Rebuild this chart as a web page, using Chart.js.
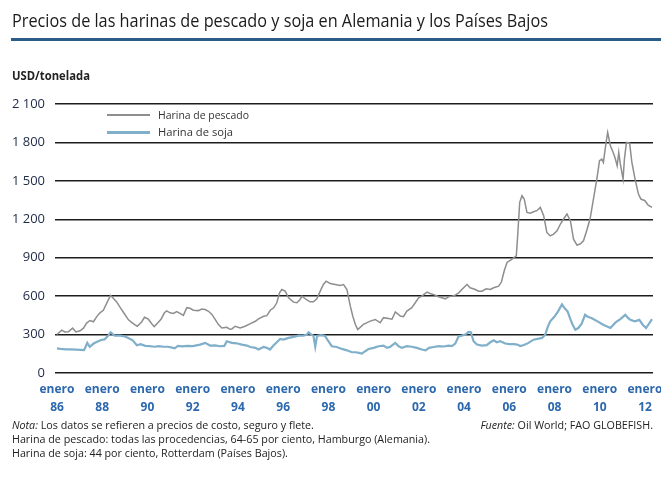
<!DOCTYPE html>
<html><head><meta charset="utf-8">
<script src="https://cdn.jsdelivr.net/npm/chart.js@4"></script>
<style>
html,body{margin:0;padding:0;background:#fff;}
#wrap{position:relative;width:661px;height:484px;overflow:hidden;}
canvas{position:absolute;left:0;top:0;}
.t{position:absolute;white-space:nowrap;transform-origin:left center;}
.n{position:absolute;white-space:nowrap;font:11px 'Open Sans';color:#222;line-height:14px;}
</style></head>
<body><div id="wrap">
<canvas id="c" width="661" height="484"></canvas>
<div class="t" data-w="536" style="left:12px;top:8px;font:18px 'Open Sans';color:#1b1b1b;line-height:24px">Precios de las harinas de pescado y soja en Alemania y los Países Bajos</div>
<div style="position:absolute;left:11px;top:38px;width:650px;height:3px;background:#2a5c88"></div>
<div class="t" data-w="78" style="left:12px;top:68px;font:bold 11.5px 'Open Sans';color:#222;line-height:15px">USD/tonelada</div>
<div style="position:absolute;left:107px;top:114px;width:43px;height:1.5px;background:#8e8e8e"></div>
<div style="position:absolute;left:107px;top:131px;width:43px;height:2.5px;background:#80afca"></div>
<div class="t" data-w="91" style="left:158px;top:108px;font:11.5px 'Open Sans';color:#333;line-height:14px">Harina de pescado</div>
<div class="t" data-w="75" style="left:158px;top:125px;font:11.5px 'Open Sans';color:#333;line-height:14px">Harina de soja</div>
<div class="n" id="n1" style="left:12px;top:418px;transform-origin:left center"><i>Nota:</i> Los datos se refieren a precios de costo, seguro y flete.</div>
<div class="n" id="n2" style="left:12px;top:432px;transform-origin:left center">Harina de pescado: todas las procedencias, 64-65 por ciento, Hamburgo (Alemania).</div>
<div class="n" id="n3" style="left:12px;top:446px;transform-origin:left center">Harina de soja: 44 por ciento, Rotterdam (Países Bajos).</div>
<div class="n" id="n4" style="right:8px;top:418px;transform-origin:right center"><i>Fuente:</i> Oil World; FAO GLOBEFISH.</div>
</div>
<script>
const tickYears = [1986,1988,1990,1992,1994,1996,1998,2000,2002,2004,2006,2008,2010,2012];
const yTicks = [0,300,600,900,1200,1500,1800,2100];

const fishYears = [
1986.00,1986.06,1986.21,1986.35,1986.50,1986.69,1986.84,1987.02,1987.17,1987.31,
1987.46,1987.61,1987.76,1987.90,1988.05,1988.20,1988.37,1988.46,1988.64,1988.82,
1989.01,1989.16,1989.30,1989.45,1989.55,1989.75,1989.87,1990.04,1990.19,1990.30,
1990.45,1990.60,1990.75,1990.85,1991.00,1991.15,1991.29,1991.44,1991.59,1991.74,
1991.88,1992.03,1992.25,1992.40,1992.55,1992.70,1992.85,1993.00,1993.14,1993.29,
1993.51,1993.65,1993.73,1993.88,1994.10,1994.32,1994.55,1994.77,1994.91,1995.14,
1995.28,1995.43,1995.58,1995.72,1995.84,1995.94,1996.09,1996.24,1996.46,1996.61,
1996.75,1996.83,1997.02,1997.19,1997.34,1997.49,1997.64,1997.78,1997.90,1998.08,
1998.30,1998.52,1998.67,1998.82,1998.97,1999.08,1999.20,1999.30,1999.55,1999.85,
2000.07,2000.29,2000.44,2000.66,2000.81,2000.96,2001.18,2001.32,2001.47,2001.69,
2001.84,2001.99,2002.13,2002.36,2002.50,2002.72,2002.87,2003.02,2003.17,2003.31,
2003.46,2003.61,2003.76,2003.98,2004.13,2004.27,2004.50,2004.64,2004.79,2004.98,
2005.16,2005.31,2005.53,2005.65,2005.78,2005.90,2006.12,2006.31,2006.37,2006.46,
2006.56,2006.66,2006.78,2006.93,2007.07,2007.22,2007.37,2007.52,2007.66,2007.81,
2007.96,2008.11,2008.26,2008.40,2008.55,2008.70,2008.84,2008.99,2009.13,2009.28,
2009.42,2009.57,2009.72,2009.87,2009.99,2010.09,2010.16,2010.28,2010.35,2010.47,
2010.62,2010.69,2010.77,2010.84,2010.91,2011.03,2011.09,2011.18,2011.32,2011.42,
2011.56,2011.71,2011.82,2012.00,2012.14,2012.31];
const fishPrices = [
300,310,335,320,322,350,320,330,350,390,
410,400,440,470,490,545,605,590,555,505,
455,415,395,375,365,400,435,420,385,362,
390,420,470,485,470,465,480,465,450,510,
505,490,487,500,495,482,457,417,378,352,
357,341,344,365,352,365,386,404,423,443,
448,490,509,548,626,652,639,587,553,548,
574,600,574,556,556,579,639,691,717,699,
691,683,690,652,522,443,375,340,380,405,
418,393,432,425,420,476,445,440,484,510,
548,587,600,631,621,608,595,587,579,595,
600,608,626,665,691,665,652,639,639,657,
652,665,678,710,800,863,889,915,1071,1332,
1384,1358,1254,1248,1259,1267,1293,1228,1097,1071,
1084,1110,1163,1202,1241,1189,1045,999,1007,1032,
1110,1202,1358,1514,1657,1670,1644,1800,1878,1774,
1709,1670,1618,1722,1632,1514,1670,1800,1795,1644,
1514,1397,1358,1345,1311,1293];

const soyYears = [
1986.00,1986.15,1986.40,1986.60,1986.85,1987.05,1987.20,1987.34,1987.45,1987.62,
1987.80,1987.95,1988.10,1988.25,1988.37,1988.55,1988.80,1989.00,1989.15,1989.35,
1989.53,1989.70,1989.90,1990.10,1990.30,1990.50,1990.70,1990.90,1991.05,1991.20,
1991.35,1991.55,1991.75,1992.00,1992.33,1992.55,1992.77,1993.00,1993.20,1993.40,
1993.51,1993.73,1993.95,1994.17,1994.40,1994.55,1994.77,1994.91,1995.13,1995.28,
1995.42,1995.57,1995.72,1995.87,1996.01,1996.24,1996.46,1996.68,1996.90,1997.05,
1997.12,1997.25,1997.34,1997.42,1997.50,1997.67,1997.85,1998.00,1998.15,1998.37,
1998.60,1998.82,1999.04,1999.20,1999.35,1999.48,1999.63,1999.78,2000.00,2000.22,
2000.44,2000.59,2000.74,2000.96,2001.11,2001.25,2001.47,2001.69,2001.91,2002.13,
2002.30,2002.45,2002.66,2002.88,2003.10,2003.31,2003.46,2003.61,2003.76,2003.90,
2004.05,2004.20,2004.30,2004.42,2004.57,2004.79,2005.00,2005.16,2005.31,2005.45,
2005.60,2005.82,2006.00,2006.20,2006.35,2006.49,2006.65,2006.85,2007.07,2007.30,
2007.45,2007.59,2007.70,2007.81,2008.00,2008.15,2008.33,2008.45,2008.58,2008.70,
2008.80,2008.92,2009.05,2009.20,2009.35,2009.45,2009.65,2009.90,2010.15,2010.47,
2010.70,2010.91,2011.13,2011.25,2011.35,2011.55,2011.75,2011.90,2012.05,2012.31];
const soyPrices = [
192,188,185,185,182,180,178,235,205,230,
245,258,262,288,318,292,292,285,273,255,
217,225,212,210,205,210,205,205,200,193,
212,208,212,210,222,235,214,215,209,212,
248,235,232,222,214,203,196,183,203,196,
183,214,240,266,261,274,282,292,292,300,
318,300,290,205,290,295,290,248,209,203,
188,177,162,162,157,151,170,188,196,209,
214,196,205,235,209,196,209,205,196,183,
177,196,203,209,207,214,210,230,287,292,
300,320,318,248,222,214,218,240,256,240,
248,230,225,225,222,210,218,235,260,268,
274,300,360,403,441,479,536,505,479,420,
377,338,351,385,454,441,428,403,377,351,
395,420,454,430,415,403,415,377,351,420];

const seriesNames = ['Harina de pescado','Harina de soja'];

function fmtThousands(v){ return String(v).replace(/\B(?=(\d{3})+(?!\d))/g,' '); }

document.querySelectorAll('[data-w]').forEach(el=>{
  const w = el.getBoundingClientRect().width;
  el.style.transform = 'scaleX(' + (+el.dataset.w / w) + ')';
});
(function(){
  const n2 = document.getElementById('n2');
  const k = 418 / n2.getBoundingClientRect().width;
  ['n1','n2','n3','n4'].forEach(id=>{ document.getElementById(id).style.transform = 'scaleX(' + k + ')'; });
})();

new Chart(document.getElementById('c'), {
  type: 'line',
  data: {
    datasets: [
      { label: seriesNames[0], data: fishYears.map((x,i)=>({x:x, y:fishPrices[i]})),
        borderColor:'#8e8e8e', borderWidth:1.5, pointRadius:0, tension:0, fill:false },
      { label: seriesNames[1], data: soyYears.map((x,i)=>({x:x, y:soyPrices[i]})),
        borderColor:'#80afca', borderWidth:2.2, pointRadius:0, tension:0, fill:false }
    ]
  },
  options: {
    responsive:false, animation:false,
    plugins:{ legend:{display:false}, tooltip:{enabled:false} },
    layout:{ padding:{left:0,right:8,top:104,bottom:71} },
    scales:{
      x:{
        type:'linear', min:1985.912, max:2012.354,
        grid:{display:false, drawTicks:false, tickLength:0},
        border:{display:false},
        afterBuildTicks:(s)=>{ s.ticks = tickYears.map(v=>({value:v})); },
        ticks:{ autoSkip:false, maxRotation:0, minRotation:0, padding:8, color:'#2c68ad',
          font:{family:'Open Sans', size:12, weight:'bold', lineHeight:1.5},
          callback:(v)=>['enero', String(v%100).padStart(2,'0')] },
        afterFit:(s)=>{ s.height=40; s.paddingLeft=0; s.paddingRight=0; }
      },
      y:{
        min:0, max:2100,
        afterBuildTicks:(s)=>{ s.ticks = yTicks.map(v=>({value:v})); },
        grid:{color:'#1c1c1c', lineWidth:1.5, drawTicks:false, tickLength:0},
        border:{display:false},
        ticks:{ padding:10, color:'#1e2a48', font:{family:'Open Sans', size:13},
          callback:(v)=>fmtThousands(v) },
        afterFit:(s)=>{ s.width=55; s.paddingTop=0; s.paddingBottom=0; }
      }
    }
  }
});
</script>
</body></html>
